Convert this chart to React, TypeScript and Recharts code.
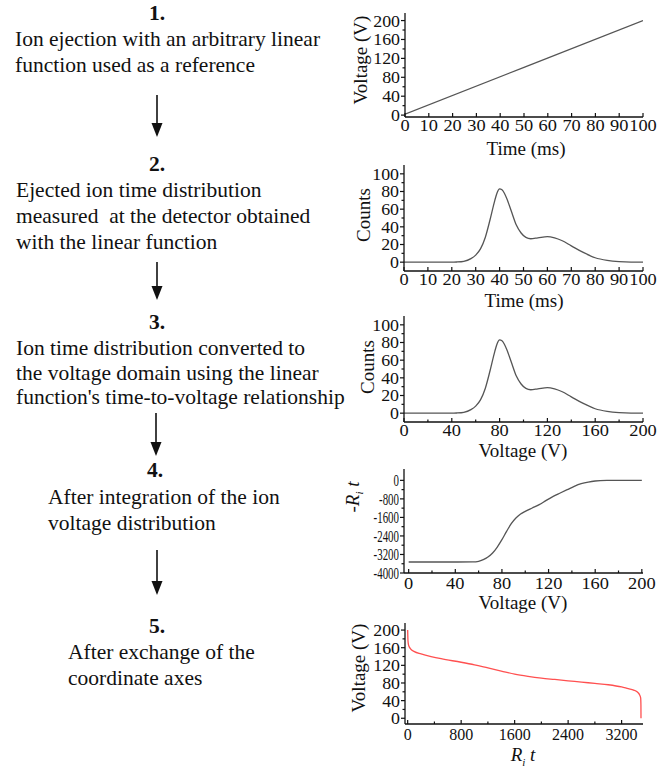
import React from 'react';
import { LineChart, Line, XAxis, YAxis } from 'recharts';

// ---------- data ----------
// Panel 1: linear reference function
const p1Time = [0, 50, 100];
const p1Voltage = [2, 101, 200];
const p1XMajor = [0, 10, 20, 30, 40, 50, 60, 70, 80, 90, 100];
const p1YMajor = [0, 40, 80, 120, 160, 200];
const p1YMinor = [20, 60, 100, 140, 180];

// Panel 2: ejected ion time distribution
const p2Time = [0, 10, 20, 22, 25, 28, 30, 32, 34, 36, 38, 39, 40, 41, 42, 43, 45, 47, 49, 51, 53, 56, 60, 63, 66, 70, 75, 80, 85, 90, 95, 100];
const p2Counts = [0, 0, 0, 0.2, 1, 4, 8, 15, 28, 48, 70, 79, 83, 82, 78, 72, 57, 42, 33, 28, 26.5, 27.5, 29, 27.5, 24.5, 18.5, 11, 5, 2, 0.5, 0, 0];
const p2XMajor = [0, 10, 20, 30, 40, 50, 60, 70, 80, 90, 100];
const p2YMajor = [0, 20, 40, 60, 80, 100];
const p2YMinor = [10, 30, 50, 70, 90];

// Panel 3: distribution in the voltage domain
const p3Voltage = [0, 20, 40, 44, 50, 56, 60, 64, 68, 72, 76, 78, 80, 82, 84, 86, 90, 94, 98, 102, 106, 112, 120, 126, 132, 140, 150, 160, 170, 180, 190, 200];
const p3Counts = [0, 0, 0, 0.2, 1, 4, 8, 15, 28, 48, 70, 79, 83, 82, 78, 72, 57, 42, 33, 28, 26.5, 27.5, 29, 27.5, 24.5, 18.5, 11, 5, 2, 0.5, 0, 0];
const p3XMajor = [0, 40, 80, 120, 160, 200];
const p3XMinor = [20, 60, 100, 140, 180];
const p3YMajor = [0, 20, 40, 60, 80, 100];
const p3YMinor = [10, 30, 50, 70, 90];

// Panel 4: integrated distribution (-R_i t)
const p4Voltage = [0, 20, 40, 55, 60, 64, 68, 72, 76, 80, 84, 88, 92, 96, 100, 106, 112, 118, 124, 130, 136, 142, 148, 154, 160, 170, 180, 200];
const p4Rt = [-3525, -3525, -3525, -3522, -3497, -3425, -3310, -3137, -2878, -2561, -2202, -1871, -1626, -1453, -1338, -1194, -1050, -863, -691, -547, -403, -259, -144, -72, -29, -5, 0, 0];
const p4XMajor = [0, 40, 80, 120, 160, 200];
const p4XMinor = [20, 60, 100, 140, 180];
const p4YMajor = [-4000, -3200, -2400, -1600, -800, 0];
const p4YMinor = [-3600, -2800, -2000, -1200, -400];

// Panel 5: exchanged axes
const p5Rt = [0, 5, 15, 40, 100, 200, 350, 500, 800, 1000, 1200, 1400, 1600, 1800, 2000, 2200, 2400, 2600, 2800, 3000, 3200, 3300, 3380, 3440, 3470, 3485, 3489, 3490];
const p5Voltage = [200, 175, 165, 158, 151, 146, 140, 135, 127, 121, 114, 107, 100, 95, 91, 88, 85, 82, 79, 76, 71, 67, 64, 59, 53, 46, 30, 0];
const p5XMajor = [0, 800, 1600, 2400, 3200];
const p5XMinor = [400, 1200, 2000, 2800];
const p5YMajor = [0, 40, 80, 120, 160, 200];
const p5YMinor = [20, 60, 100, 140, 180];

// ---------- helpers ----------
const FONT = '"Liberation Serif", "Times New Roman", serif';
const INK = '#111';

type Side = 'bottom' | 'top' | 'left' | 'right';
interface TickOpts { fontSize: number; sx: number; dy: number; labels: boolean }

function makeTick(side: Side, majors: number[], opts: TickOpts) {
  return (props: any) => {
    const { x, y, payload } = props;
    const v = payload.value;
    const isMajor = majors.some((m) => Math.abs(m - v) < 1e-6);
    const len = isMajor ? 4 : 2.5;
    let line: any = null;
    if (side === 'bottom') line = <line x1={x} y1={y} x2={x} y2={y - len} stroke={INK} strokeWidth={1.2} />;
    if (side === 'top') line = <line x1={x} y1={y} x2={x} y2={y + len} stroke={INK} strokeWidth={1.2} />;
    if (side === 'left') line = <line x1={x} y1={y} x2={x - len} y2={y} stroke={INK} strokeWidth={1.2} />;
    if (side === 'right') line = <line x1={x} y1={y} x2={x - len} y2={y} stroke={INK} strokeWidth={1.2} />;
    let label: any = null;
    if (opts.labels && isMajor) {
      if (side === 'bottom') {
        label = (
          <text transform={`translate(${x},${y + opts.dy}) scale(${opts.sx},1)`} textAnchor="middle"
            fontFamily={FONT} fontSize={opts.fontSize} fill={INK}>{v}</text>
        );
      } else if (side === 'left') {
        label = (
          <text transform={`translate(${x - 5},${y}) scale(${opts.sx},1)`} textAnchor="end" dy="0.35em"
            fontFamily={FONT} fontSize={opts.fontSize} fill={INK}>{v}</text>
        );
      }
    }
    return (
      <g>
        {line}
        {label}
      </g>
    );
  };
}

interface PanelCfg {
  frame: { left: number; right: number; top: number; bottom: number };
  xDomain: [number, number];
  yDomain: [number, number];
  xMajor: number[];
  xMinor: number[];
  yMajor: number[];
  yMinor: number[];
  xs: number[];
  ys: number[];
  color: string;
  curve: 'linear' | 'monotone';
  xTick: TickOpts;
  yTick: TickOpts;
}

const axisStyle = { stroke: INK, strokeWidth: 1.3 };

function Panel({ cfg }: { cfg: PanelCfg }) {
  const { frame } = cfg;
  const mt = 10;
  const xh = 40;
  const height = mt + (frame.bottom - frame.top) + xh;
  const data = cfg.xs.map((x, i) => ({ x, y: cfg.ys[i] }));
  const allX = [...cfg.xMajor, ...cfg.xMinor].sort((a, b) => a - b);
  const allY = [...cfg.yMajor, ...cfg.yMinor].sort((a, b) => a - b);
  return (
    <div style={{ position: 'absolute', left: 0, top: frame.top - mt }}>
      <LineChart width={659} height={height} data={data}
        margin={{ top: mt, right: 659 - frame.right, bottom: 0, left: 0 }}>
        <XAxis xAxisId="b" orientation="bottom" type="number" dataKey="x" domain={cfg.xDomain} allowDataOverflow
          ticks={allX} interval={0} tickSize={0} tickMargin={0} height={xh} axisLine={axisStyle} tickLine={false}
          tick={makeTick('bottom', cfg.xMajor, cfg.xTick)} />
        <XAxis xAxisId="t" orientation="top" type="number" dataKey="x" domain={cfg.xDomain} allowDataOverflow
          ticks={allX} interval={0} tickSize={0} tickMargin={0} height={0} axisLine={axisStyle} tickLine={false}
          tick={makeTick('top', cfg.xMajor, cfg.xTick)} />
        <YAxis yAxisId="l" orientation="left" type="number" dataKey="y" domain={cfg.yDomain} allowDataOverflow
          ticks={allY} interval={0} tickSize={0} tickMargin={0} width={frame.left} axisLine={axisStyle} tickLine={false}
          tick={makeTick('left', cfg.yMajor, cfg.yTick)} />
        <YAxis yAxisId="r" orientation="right" type="number" dataKey="y" domain={cfg.yDomain} allowDataOverflow
          ticks={allY} interval={0} tickSize={0} tickMargin={0} width={0} axisLine={axisStyle} tickLine={false}
          tick={makeTick('right', cfg.yMajor, cfg.yTick)} />
        <Line xAxisId="b" yAxisId="l" dataKey="y" type={cfg.curve} stroke={cfg.color} strokeWidth={1.3}
          dot={false} activeDot={false} isAnimationActive={false} />
      </LineChart>
    </div>
  );
}

const xTick: TickOpts = { fontSize: 17.5, sx: 1.05, dy: 14, labels: true };
const yTick: TickOpts = { fontSize: 17, sx: 1.05, dy: 0, labels: true };

const panels: PanelCfg[] = [
  {
    frame: { left: 405, right: 643, top: 13, bottom: 117 },
    xDomain: [0, 100], yDomain: [-4, 216],
    xMajor: p1XMajor, xMinor: [], yMajor: p1YMajor, yMinor: p1YMinor,
    xs: p1Time, ys: p1Voltage, color: '#555', curve: 'linear',
    xTick, yTick,
  },
  {
    frame: { left: 404, right: 643, top: 165, bottom: 271 },
    xDomain: [0, 100], yDomain: [-10, 110],
    xMajor: p2XMajor, xMinor: [], yMajor: p2YMajor, yMinor: p2YMinor,
    xs: p2Time, ys: p2Counts, color: '#555', curve: 'monotone',
    xTick, yTick,
  },
  {
    frame: { left: 404, right: 643, top: 316, bottom: 422 },
    xDomain: [0, 200], yDomain: [-10, 110],
    xMajor: p3XMajor, xMinor: p3XMinor, yMajor: p3YMajor, yMinor: p3YMinor,
    xs: p3Voltage, ys: p3Counts, color: '#555', curve: 'monotone',
    xTick, yTick,
  },
  {
    frame: { left: 404, right: 643, top: 469, bottom: 573 },
    xDomain: [-4, 201], yDomain: [-4000, 490],
    xMajor: p4XMajor, xMinor: p4XMinor, yMajor: p4YMajor, yMinor: p4YMinor,
    xs: p4Voltage, ys: p4Rt, color: '#555', curve: 'monotone',
    xTick: { fontSize: 17.5, sx: 1.05, dy: 16, labels: true },
    yTick: { fontSize: 17, sx: 0.64, dy: 0, labels: true },
  },
  {
    frame: { left: 405, right: 643, top: 623, bottom: 724 },
    xDomain: [-40, 3520], yDomain: [-13, 216],
    xMajor: p5XMajor, xMinor: p5XMinor, yMajor: p5YMajor, yMinor: p5YMinor,
    xs: p5Rt, ys: p5Voltage, color: '#ff5050', curve: 'monotone',
    xTick: { fontSize: 16, sx: 1, dy: 16, labels: true },
    yTick,
  },
];

// ---------- text blocks ----------
const TF = 21.5;
function TextLine({ left, baseline, children, bold, center }: any) {
  const top = baseline - TF * 0.838;
  const style: any = {
    position: 'absolute', top, fontFamily: FONT, fontSize: TF, lineHeight: `${TF}px`,
    whiteSpace: 'pre', color: INK, fontWeight: bold ? 'bold' : 'normal',
  };
  if (center !== undefined) {
    style.left = center;
    style.transform = 'translateX(-50%)';
  } else {
    style.left = left;
  }
  return <div style={style}>{children}</div>;
}

function XTitle({ cx, baseline, children }: any) {
  return (
    <div style={{
      position: 'absolute', left: cx, top: baseline - 19 * 0.838, transform: 'translateX(-50%)',
      fontFamily: FONT, fontSize: 19, lineHeight: '19px', whiteSpace: 'nowrap', color: INK,
    }}>{children}</div>
  );
}

function YTitle({ cx, cy, children }: any) {
  return (
    <div style={{
      position: 'absolute', left: cx, top: cy, transform: 'translate(-50%, -50%) rotate(-90deg)',
      fontFamily: FONT, fontSize: 19, lineHeight: '19px', whiteSpace: 'nowrap', color: INK,
    }}>{children}</div>
  );
}

function Arrow({ x, y1, y2 }: { x: number; y1: number; y2: number }) {
  const head = 14;
  return (
    <g>
      <line x1={x} y1={y1} x2={x} y2={y2 - head + 1} stroke={INK} strokeWidth={1.6} />
      <polygon points={`${x - 5.5},${y2 - head} ${x + 5.5},${y2 - head} ${x},${y2}`} fill={INK} />
    </g>
  );
}

const RiT = () => (
  <span><i>R</i><sub style={{ fontSize: 11, verticalAlign: 'sub', lineHeight: 0 }}><i>i</i></sub> <i>t</i></span>
);

export default function App() {
  return (
    <div style={{ position: 'absolute', left: 0, top: 0, width: 659, height: 772, background: '#fff', overflow: 'hidden' }}>
      {panels.map((p, i) => <Panel key={i} cfg={p} />)}

      <XTitle cx={526} baseline={155}>Time (ms)</XTitle>
      <XTitle cx={524} baseline={307}>Time (ms)</XTitle>
      <XTitle cx={523} baseline={457}>Voltage (V)</XTitle>
      <XTitle cx={523} baseline={609}>Voltage (V)</XTitle>
      <XTitle cx={523} baseline={761}><RiT /></XTitle>

      <YTitle cx={360} cy={60}>Voltage (V)</YTitle>
      <YTitle cx={363} cy={215}>Counts</YTitle>
      <YTitle cx={367} cy={367}>Counts</YTitle>
      <YTitle cx={352} cy={497}><span>-<RiT /></span></YTitle>
      <YTitle cx={358} cy={668}>Voltage (V)</YTitle>

      <TextLine center={157} baseline={21} bold>1.</TextLine>
      <TextLine left={15} baseline={47}>Ion ejection with an arbitrary linear</TextLine>
      <TextLine left={15} baseline={73}>function used as a reference</TextLine>

      <TextLine center={157} baseline={172} bold>2.</TextLine>
      <TextLine left={16} baseline={198}>Ejected ion time distribution</TextLine>
      <TextLine left={16} baseline={224}>measured  at the detector obtained</TextLine>
      <TextLine left={16} baseline={250}>with the linear function</TextLine>

      <TextLine center={157} baseline={330} bold>3.</TextLine>
      <TextLine left={16} baseline={356}>Ion time distribution converted to</TextLine>
      <TextLine left={16} baseline={381}>the voltage domain using the linear</TextLine>
      <TextLine left={16} baseline={405}>function's time-to-voltage relationship</TextLine>

      <TextLine center={155} baseline={478} bold>4.</TextLine>
      <TextLine left={48} baseline={505}>After integration of the ion</TextLine>
      <TextLine left={48} baseline={531}>voltage distribution</TextLine>

      <TextLine center={157} baseline={634} bold>5.</TextLine>
      <TextLine left={68} baseline={660}>After exchange of the</TextLine>
      <TextLine left={68} baseline={686}>coordinate axes</TextLine>

      <svg width={340} height={772} style={{ position: 'absolute', left: 0, top: 0, pointerEvents: 'none' }}>
        <Arrow x={157} y1={95} y2={137} />
        <Arrow x={157} y1={262} y2={300} />
        <Arrow x={156} y1={413} y2={456} />
        <Arrow x={157} y1={550} y2={595} />
      </svg>
    </div>
  );
}
